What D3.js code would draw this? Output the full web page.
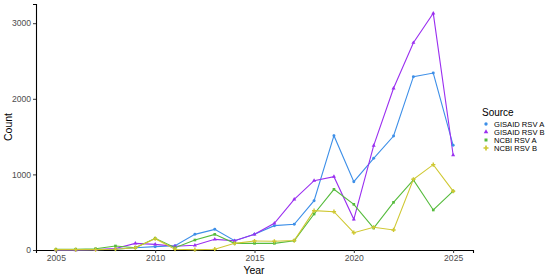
<!DOCTYPE html>
<html>
<head>
<meta charset="utf-8">
<script src="https://cdn.jsdelivr.net/npm/d3@7"></script>
<style>
  body { margin: 0; background: #fff; }
  svg { font-family: "Liberation Sans", Arial, sans-serif; }
</style>
</head>
<body>
<svg id="chart" width="550" height="277"></svg>
<script>
// data
const years = d3.range(2005, 2026);
const gisaidA = [0, 0, 5, 10, 30, 44, 57, 207, 273, 123, 207, 322, 340, 652, 1512, 904, 1213, 1508, 2293, 2341, 1385];
const gisaidB = [0, 0, 5, 20, 88, 75, 50, 62, 141, 123, 207, 353, 670, 917, 970, 406, 1380, 2139, 2742, 3131, 1257];
const ncbiA   = [9, 10, 17, 53, 30, 155, 30, 132, 207, 88, 88, 88, 123, 476, 803, 604, 291, 631, 926, 529, 778];
const ncbiB   = [5, 5, 5, 10, 30, 150, 10, 5, 10, 88, 119, 115, 125, 520, 507, 229, 300, 265, 935, 1129, 778];
const seriesNames = ["GISAID RSV A", "GISAID RSV B", "NCBI RSV A", "NCBI RSV B"];
const xTicks = [2005, 2010, 2015, 2020, 2025];
const yTicks = [0, 1000, 2000, 3000];

const colors = ["#3d8fe8", "#9a2ff0", "#55bb3c", "#cfc832"];
const shapes = [d3.symbolCircle, d3.symbolTriangle, d3.symbolSquare, d3.symbolCross];

const series = [gisaidA, gisaidB, ncbiA, ncbiB].map((vals, i) => ({
  name: seriesNames[i],
  values: vals.map((v, j) => ({ year: years[j], count: v }))
}));

const svg = d3.select("#chart");
const x = d3.scaleLinear().domain([2004, 2026]).range([36, 473]);
const y = d3.scaleLinear().domain([0, 3254]).range([250, 4]);

// axes
const xAxis = svg.append("g").attr("transform", "translate(0,250)")
  .call(d3.axisBottom(x).tickValues(xTicks).tickFormat(d3.format("d")).tickSize(3).tickPadding(1.5));
const yAxis = svg.append("g").attr("transform", "translate(36,0)")
  .call(d3.axisLeft(y).tickValues(yTicks).tickFormat(d3.format("d")).tickSize(3).tickPadding(2));

[xAxis, yAxis].forEach(g => {
  g.select(".domain").attr("stroke", "#000").attr("stroke-width", 1.1);
  g.selectAll(".tick line").attr("stroke", "#333");
  g.selectAll(".tick text").attr("fill", "#4d4d4d").style("font-size", "8.6px")
    .style("font-family", "'Liberation Sans', Arial, sans-serif");
});

svg.append("text").attr("x", 254).attr("y", 274).attr("text-anchor", "middle")
  .style("font-size", "10.5px").text("Year");
svg.append("text").attr("transform", "translate(12,127) rotate(-90)").attr("text-anchor", "middle")
  .style("font-size", "10.5px").text("Count");

// lines + points
const line = d3.line().x(d => x(d.year)).y(d => y(d.count));
series.forEach((s, i) => {
  svg.append("path").datum(s.values)
    .attr("fill", "none").attr("stroke", colors[i]).attr("stroke-width", 1.1)
    .attr("d", line);
});
series.forEach((s, i) => {
  const sym = d3.symbol().type(shapes[i]).size(i === 3 ? 10 : 7);
  svg.append("g").selectAll("path").data(s.values).join("path")
    .attr("transform", d => `translate(${x(d.year)},${y(d.count)})`)
    .attr("d", sym)
    .attr("fill", colors[i]);
});

// legend
const legend = svg.append("g");
legend.append("text").attr("x", 482).attr("y", 116).style("font-size", "10px").text("Source");
series.forEach((s, i) => {
  const ly = 124 + i * 8;
  legend.append("path")
    .attr("transform", `translate(486,${ly})`)
    .attr("d", d3.symbol().type(shapes[i]).size(i === 3 ? 14 : 9)())
    .attr("fill", colors[i]);
  legend.append("text").attr("x", 494).attr("y", ly + 2.8)
    .style("font-size", "7.6px").text(s.name);
});
</script>
</body>
</html>
